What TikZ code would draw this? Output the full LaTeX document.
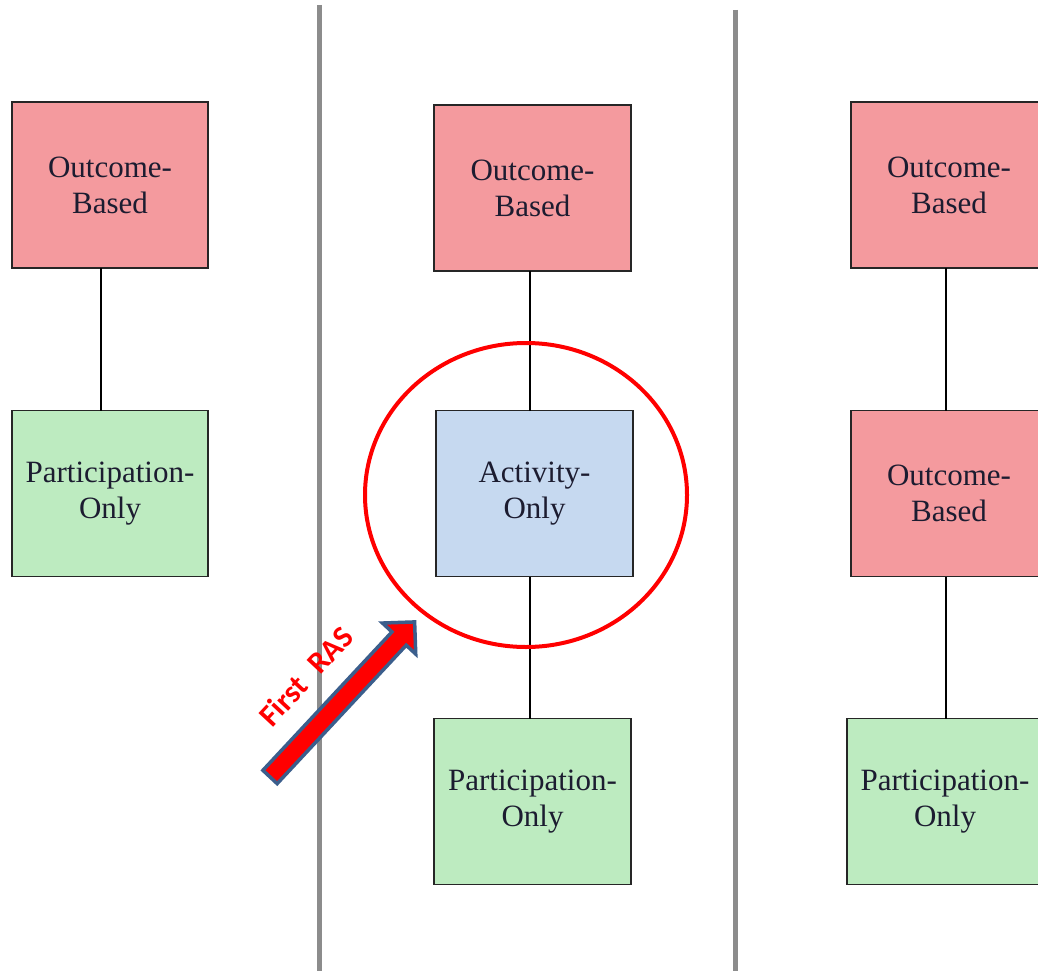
\documentclass[tikz,border=0pt]{standalone}
\usepackage{fontspec}
\setmainfont{Liberation Serif}
\newfontfamily\labelfont{Carlito}
\usetikzlibrary{shapes.geometric,shapes.arrows}
\definecolor{outcomepink}{RGB}{244,154,158}
\definecolor{partgreen}{RGB}{189,235,192}
\definecolor{actblue}{RGB}{198,217,240}
\definecolor{textink}{RGB}{28,28,48}
\definecolor{divider}{RGB}{140,140,140}
\definecolor{arrowblue}{RGB}{59,94,140}
\tikzset{
  stagebox/.style={draw=black!85, line width=1.8pt, inner sep=0pt, outer sep=0pt,
    minimum width=196pt, minimum height=166pt, align=center, text=textink,
    font=\fontsize{31}{36}\selectfont},
  outcome/.style={stagebox, fill=outcomepink},
  participation/.style={stagebox, fill=partgreen},
  activity/.style={stagebox, fill=actblue},
  link/.style={line width=1.4pt, black},
  divide/.style={line width=5pt, divider}
}
\begin{document}
\begin{tikzpicture}[x=1pt,y=-1pt]
\useasboundingbox (0,0) rectangle (1038,971);
\clip (0,0) rectangle (1038,971);
\fill[white] (0,0) rectangle (1038,971);

% column dividers
\coordinate (d1top) at (319,5);
\coordinate (d1bot) at (319,971);
\coordinate (d2top) at (735,10);
\coordinate (d2bot) at (735,971);
\draw[divide] (d1top) -- (d1bot);
\draw[divide] (d2top) -- (d2bot);

% left column
\node[outcome] (ob1) at (110,185) {Outcome-\\Based};
\node[participation] (po1) at (110,493.5) {Participation-\\Only};
\draw[link] ([xshift=-9pt]ob1.south) -- ([xshift=-9pt]po1.north);

% middle column
\node[outcome, minimum width=197pt] (ob2) at (532.5,188) {Outcome-\\Based};
\node[activity, minimum width=197pt] (ao2) at (534.5,493.5) {Activity-\\Only};
\node[participation, minimum width=197pt] (po2) at (532.5,801.5) {Participation-\\Only};
\draw[link] ([xshift=-2.5pt]ob2.south) -- ([xshift=-4.5pt]ao2.north);
\draw[link] ([xshift=-4.5pt]ao2.south) -- ([xshift=-2.5pt]po2.north);

% right column
\node[outcome] (ob3) at (949,185) {Outcome-\\Based};
\node[outcome] (ob4) at (949,493.5) {Outcome-\\Based};
\node[participation] (po3) at (945,801.5) {Participation-\\Only};
\draw[link] ([xshift=-3pt]ob3.south) -- ([xshift=-3pt]ob4.north);
\draw[link] ([xshift=-3pt]ob4.south) -- ([xshift=1pt]po3.north);

% highlight ring
\node[ellipse, draw=red, line width=4pt, minimum width=322pt, minimum height=304pt,
  inner sep=0pt] (ring) at (526,495) {};

% pointer arrow
\node[single arrow, draw=arrowblue, fill=red, line width=3.5pt, rotate=47,
  inner xsep=0pt, inner ysep=8pt, minimum height=212pt,
  single arrow head extend=13pt] (ras) at (339,703) {};
\node[rotate=47, text=red, font=\labelfont\bfseries\fontsize{31}{34}\selectfont]
  (raslabel) at (306,676) {First\hspace{0.3em} RAS};
\end{tikzpicture}
\end{document}
